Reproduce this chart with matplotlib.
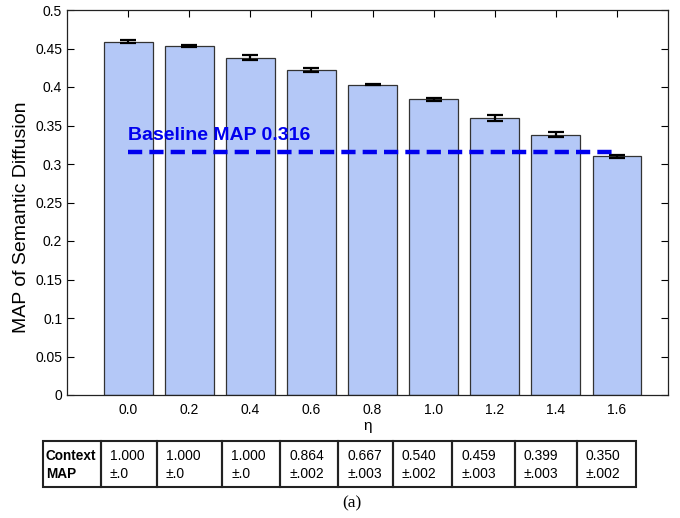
import numpy as np
import matplotlib.pyplot as plt
from matplotlib.patches import Rectangle

# data
eta_labels = ['0.0', '0.2', '0.4', '0.6', '0.8', '1.0', '1.2', '1.4', '1.6']
map_mean = [0.459, 0.453, 0.438, 0.422, 0.403, 0.384, 0.360, 0.338, 0.310]
map_err = [0.002, 0.0015, 0.003, 0.003, 0.001, 0.002, 0.004, 0.003, 0.002]
baseline_map = 0.316
context_map = ['1.000', '1.000', '1.000', '0.864', '0.667', '0.540', '0.459', '0.399', '0.350']
context_std = ['±.0', '±.0', '±.0', '±.002', '±.003', '±.002', '±.003', '±.003', '±.002']

W, H = 680, 518
fig = plt.figure(figsize=(W / 100, H / 100), dpi=100)
sans = ['Liberation Sans', 'DejaVu Sans']

# main axes, pixel box: left 67, right 668, top 10, bottom 395
ax = fig.add_axes([67 / W, 1 - 395 / H, 601 / W, 385 / H])
x = np.arange(len(eta_labels))
ax.bar(x, map_mean, width=0.8, color='#b4c8f7', edgecolor='#333333', linewidth=0.9, zorder=2)
ax.errorbar(x, map_mean, yerr=map_err, fmt='none', ecolor='black',
            elinewidth=1.6, capsize=6, capthick=1.6, zorder=3)
ax.plot([x[0], x[-1]], [baseline_map, baseline_map], color='#0000ee', linewidth=3.2,
        dashes=(3.2, 1.6), zorder=4)
ax.text(x[0], baseline_map + 0.0095, f'Baseline MAP {baseline_map}', color='#0000ee',
        fontsize=14, fontweight='bold', family=sans,
        ha='left', va='bottom', zorder=5)

ax.set_xlim(-1.0, 8.835)
ax.set_ylim(0, 0.5)
ax.set_xticks(x)
ax.set_xticklabels(eta_labels, family=sans, fontsize=10)
ax.set_yticks(np.arange(0, 0.501, 0.05))
ax.set_yticklabels(['0'] + [f'{v:g}' for v in np.arange(0.05, 0.501, 0.05)], family=sans, fontsize=10)
ax.tick_params(axis='both', direction='in', top=True, right=True, bottom=False, length=5, width=0.8)
ax.tick_params(axis='x', pad=6)
for s in ax.spines.values():
    s.set_linewidth(0.9)
    s.set_color('#222222')
ax.set_xlabel('η', family=sans, fontsize=11, labelpad=1)
ax.set_ylabel('MAP of Semantic Diffusion', family=sans, fontsize=14)
ax.yaxis.set_label_coords(-0.062, 0.462)

# table below the axes, drawn in pixel coordinates on an overlay
ov = fig.add_axes([0, 0, 1, 1])
ov.set_xlim(0, W)
ov.set_ylim(H, 0)
ov.axis('off')
col_edges = [43, 101, 157, 222, 280, 338, 393, 452, 515, 577, 636]
top, bot = 441, 487
for i in range(len(col_edges) - 1):
    ov.add_patch(Rectangle((col_edges[i], top), col_edges[i + 1] - col_edges[i], bot - top,
                           fill=False, edgecolor='#222222', linewidth=1.5))
ov.text(col_edges[0] + 3, 456, 'Context', fontsize=9.8, fontweight='bold', family=sans, va='center')
ov.text(col_edges[0] + 3, 474, 'MAP', fontsize=9.8, fontweight='bold', family=sans, va='center')
for i, (m, sd) in enumerate(zip(context_map, context_std)):
    left = col_edges[i + 1] + 9
    ov.text(left, 456, m, fontsize=10, family=sans, va='center')
    ov.text(left, 474, sd, fontsize=10, family=sans, va='center')

ov.text(352, 503, '(a)', fontsize=12.5, family=['Liberation Serif', 'DejaVu Serif'],
        ha='center', va='center')

fig.savefig('out.png', dpi=100)
